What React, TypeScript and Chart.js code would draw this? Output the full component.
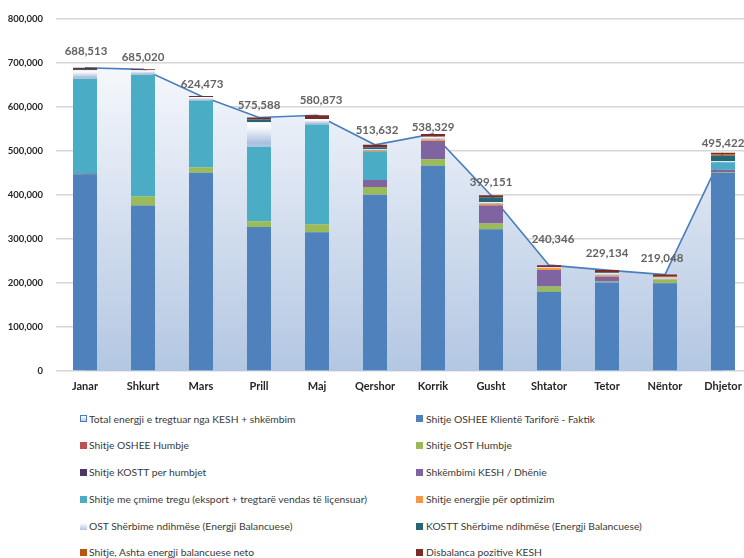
import React, { useEffect, useRef } from 'react';
import { Chart, registerables } from 'chart.js';

Chart.register(...registerables);

const MONTHS = ['Janar', 'Shkurt', 'Mars', 'Prill', 'Maj', 'Qershor', 'Korrik', 'Gusht', 'Shtator', 'Tetor', 'Nëntor', 'Dhjetor'];

const TOTAL_TRADED = [688513, 685020, 624473, 575588, 580873, 513632, 538329, 399151, 240346, 229134, 219048, 495422];
const OSHEE_TARIF = [446000, 376000, 450000, 327000, 315000, 400000, 466000, 322000, 180000, 201000, 199000, 450000];
const OSHEE_HUMBJE = [0, 0, 0, 0, 0, 0, 0, 0, 0, 0, 0, 0];
const OST_HUMBJE = [0, 20000, 12000, 13000, 18000, 18000, 15000, 13000, 12000, 2500, 8000, 2000];
const KOSTT_HUMBJE = [2000, 0, 0, 0, 0, 0, 0, 0, 0, 0, 0, 0];
const SHKEMBIMI = [0, 0, 0, 0, 0, 16000, 41000, 41000, 37500, 10500, 0, 5000];
const TREGU = [215500, 277000, 152000, 169000, 227000, 65000, 0, 0, 0, 0, 0, 17000];
const OPTIMIZIM = [0, 0, 0, 0, 0, 3000, 3500, 4000, 4500, 3500, 1500, 0];
const OST_SHERBIME = [19513, 10020, 8473, 56000, 12000, 1500, 6500, 4000, 1500, 4500, 4000, 3000];
const KOSTT_SHERBIME = [2500, 0, 0, 6000, 0, 4000, 0, 10000, 0, 1500, 0, 12000];
const ASHTA = [0, 0, 0, 0, 0, 0, 0, 0, 0, 0, 2000, 2500];
const DISBALANCA = [3000, 2000, 2000, 4588, 8873, 6132, 6329, 5151, 4846, 5634, 4548, 3922];

// label nudges (pixels) for the total labels, as placed in the original
const LABEL_DX = [1, 0, 1, 0, 4, 2, 0, 0, 4, 0, -3, 0];
const LABEL_DY = [-16, -12.5, -11.5, -12, -14.5, -15, -6.5, -13, -26, -16.5, -16, -10];

const W = 752;
const H = 400;

const L_TOTAL = 'Total energji e tregtuar nga KESH + shkëmbim';
const SERIES = [
  { label: 'Shitje OSHEE Klientë Tariforë - Faktik', data: OSHEE_TARIF, color: '#4f81bd' },
  { label: 'Shitje OSHEE Humbje', data: OSHEE_HUMBJE, color: '#c0504d' },
  { label: 'Shitje OST Humbje', data: OST_HUMBJE, color: '#9bbb59' },
  { label: 'Shitje KOSTT per humbjet', data: KOSTT_HUMBJE, color: '#4a3763' },
  { label: 'Shkëmbimi KESH / Dhënie', data: SHKEMBIMI, color: '#8064a2' },
  { label: 'Shitje me çmime tregu (eksport + tregtarë vendas të liçensuar)', data: TREGU, color: '#4bacc6' },
  { label: 'Shitje energjie për optimizim', data: OPTIMIZIM, color: '#f79646' },
  { label: 'OST Shërbime ndihmëse (Energji Balancuese)', data: OST_SHERBIME, color: 'GRAD' },
  { label: 'KOSTT Shërbime ndihmëse (Energji Balancuese)', data: KOSTT_SHERBIME, color: '#256676' },
  { label: 'Shitje, Ashta energji balancuese neto', data: ASHTA, color: '#b8560f' },
  { label: 'Disbalanca pozitive KESH', data: DISBALANCA, color: '#7a2a27' },
];

const LEGEND_LEFT = [L_TOTAL, SERIES[1].label, SERIES[3].label, SERIES[5].label, SERIES[7].label, SERIES[9].label];
const LEGEND_RIGHT = [SERIES[0].label, SERIES[2].label, SERIES[4].label, SERIES[6].label, SERIES[8].label, SERIES[10].label];
const LEGEND_ROW_Y = [418.5, 445, 472, 499, 526, 552];

function iconStyle(label: string): React.CSSProperties {
  if (label === L_TOTAL) {
    return { background: 'linear-gradient(#ffffff, #b9cce4)', border: '1px solid #4a7ebb', boxSizing: 'border-box' };
  }
  const s = SERIES.find((x) => x.label === label)!;
  if (s.color === 'GRAD') return { background: 'linear-gradient(#ffffff, #b3c6e0)' };
  return { background: s.color };
}

export default function App() {
  const ref = useRef<HTMLCanvasElement>(null);

  useEffect(() => {
    const canvas = ref.current!;
    const ostIndex = 7;
    const cumBefore = (idx: number, i: number) => {
      let s = 0;
      for (let k = 0; k < idx; k++) s += SERIES[k].data[i];
      return s;
    };

    const totalsPlugin = {
      id: 'totals',
      afterDatasetsDraw(chart: any) {
        const ctx = chart.ctx;
        const ys = chart.scales.y;
        const xs = chart.scales.x;
        ctx.save();
        ctx.font = 'bold 11.5px Lato';
        ctx.fillStyle = '#636363';
        ctx.textAlign = 'center';
        ctx.textBaseline = 'middle';
        for (let i = 0; i < MONTHS.length; i++) {
          let sum = 0;
          SERIES.forEach((s) => (sum += s.data[i]));
          const x = xs.getPixelForValue(i) + LABEL_DX[i];
          const y = ys.getPixelForValue(sum) + LABEL_DY[i];
          ctx.fillText(TOTAL_TRADED[i].toLocaleString('en-US'), x, y);
        }
        ctx.restore();
      },
    };

    const barDatasets = SERIES.map((s, idx) => ({
      type: 'bar' as const,
      label: s.label,
      data: s.data,
      stack: 'bars',
      order: 0,
      borderWidth: 0,
      barPercentage: 0.414,
      categoryPercentage: 1,
      backgroundColor:
        s.color === 'GRAD'
          ? (c: any) => {
              const chart = c.chart;
              const i = c.dataIndex;
              const ys = chart.scales && chart.scales.y;
              if (i === undefined || !ys) return '#cbd8eb';
              const start = cumBefore(ostIndex, i);
              const end = start + OST_SHERBIME[i];
              const y0 = ys.getPixelForValue(end);
              const y1 = ys.getPixelForValue(start);
              if (!isFinite(y0) || !isFinite(y1) || y1 - y0 < 0.5) return '#cbd8eb';
              const g = chart.ctx.createLinearGradient(0, y0, 0, y1);
              g.addColorStop(0, '#ffffff');
              g.addColorStop(0.25, '#f4f7fb');
              g.addColorStop(0.85, '#aabfdd');
              g.addColorStop(1, '#b8cae4');
              return g;
            }
          : s.color,
    }));

    const chart = new Chart(canvas, {
      type: 'bar',
      data: {
        labels: MONTHS,
        datasets: [
          {
            type: 'line' as const,
            label: L_TOTAL,
            data: TOTAL_TRADED,
            stack: 'area',
            order: 5,
            fill: 'origin',
            tension: 0,
            pointRadius: 0,
            borderColor: '#4a7ebb',
            borderWidth: 1.6,
            backgroundColor: (c: any) => {
              const chart = c.chart;
              const ys = chart.scales && chart.scales.y;
              const area = chart.chartArea;
              if (!ys || !area) return '#dce6f2';
              const g = chart.ctx.createLinearGradient(0, ys.getPixelForValue(700000), 0, area.bottom);
              g.addColorStop(0, '#f6f8fc');
              g.addColorStop(1, '#b3c7e2');
              return g;
            },
          } as any,
          ...barDatasets,
        ],
      },
      options: {
        responsive: false,
        animation: false,
        devicePixelRatio: 1,
        layout: { padding: { top: 15, left: 0, right: 0, bottom: 0 } },
        plugins: {
          legend: { display: false },
          tooltip: { enabled: false },
        },
        scales: {
          x: {
            stacked: true,
            offset: true,
            grid: { display: false, drawTicks: false },
            border: { display: false },
            ticks: {
              padding: 9,
              color: '#262626',
              font: { family: 'Lato', size: 11, weight: 'bold' },
              maxRotation: 0,
              autoSkip: false,
            },
            afterFit: (s: any) => {
              s.height = 29;
            },
          },
          y: {
            stacked: true,
            min: 0,
            max: 800000,
            grid: { color: '#d6d6d6', lineWidth: 1.6, drawTicks: false },
            border: { display: false },
            ticks: {
              stepSize: 100000,
              padding: 13,
              color: '#262626',
              font: { family: 'Lato', size: 9.5, weight: 'bold' },
              callback: (v: any) => Number(v).toLocaleString('en-US'),
            },
            afterFit: (s: any) => {
              s.width = 56;
            },
          },
        },
      } as any,
      plugins: [totalsPlugin],
    });
    return () => chart.destroy();
  }, []);

  const legendItem = (label: string, i: number, iconX: number, textX: number) => (
    <React.Fragment key={label}>
      <div
        style={{
          position: 'absolute',
          left: iconX,
          top: LEGEND_ROW_Y[i] - 3.5,
          width: 7,
          height: 7,
          ...iconStyle(label),
        }}
      />
      <div
        style={{
          position: 'absolute',
          left: textX,
          top: LEGEND_ROW_Y[i] - 7,
          height: 14,
          lineHeight: '14px',
          fontFamily: 'Lato',
          fontSize: 10.3,
          color: '#3a3a3a',
          whiteSpace: 'nowrap',
        }}
      >
        {label}
      </div>
    </React.Fragment>
  );

  return (
    <div
      style={{
        position: 'fixed',
        left: 0,
        top: 0,
        width: 744,
        height: 558,
        overflow: 'hidden',
        background: '#ffffff',
      }}
    >
      <canvas ref={ref} width={W} height={H} style={{ position: 'absolute', left: 0, top: 0, width: W, height: H }} />
      {LEGEND_LEFT.map((l, i) => legendItem(l, i, 80, 89))}
      {LEGEND_RIGHT.map((l, i) => legendItem(l, i, 416, 426))}
    </div>
  );
}
